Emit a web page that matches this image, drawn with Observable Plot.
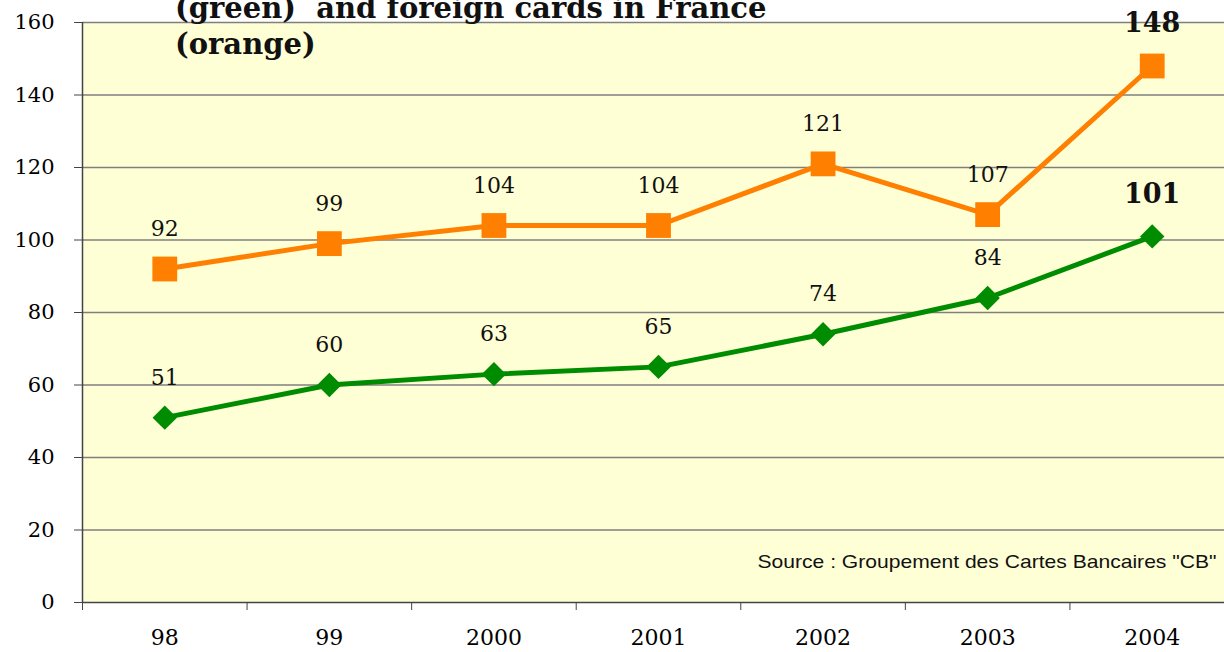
<!DOCTYPE html>
<html>
<head>
<meta charset="utf-8">
<script src="https://cdn.jsdelivr.net/npm/d3@7"></script>
<script src="https://cdn.jsdelivr.net/npm/@observablehq/plot@0.6"></script>
<style>
  html, body { margin: 0; padding: 0; background: #fff; overflow: hidden; width: 1224px; height: 652px; }
  #wrap { position: relative; width: 1224px; height: 652px; overflow: hidden; }
  #chart { position: absolute; left: 0; top: 0; width: 1240px; }
  #chart svg { max-width: none !important; }
  #title { position: absolute; left: 175px; top: -10px; font-family: "DejaVu Serif", serif; font-weight: bold; font-size: 29px; line-height: 36px; color: #111; white-space: pre; z-index: 2; }
</style>
</head>
<body>
<div id="wrap">
  <div id="chart"></div>
  <div id="title">(green)  and foreign cards in France
(orange)</div>
</div>
<script>
const years = ["98", "99", "2000", "2001", "2002", "2003", "2004"];
const foreignCards = [92, 99, 104, 104, 121, 107, 148];   // orange
const frenchCards = [51, 60, 63, 65, 74, 84, 101];        // green
const yTicks = [0, 20, 40, 60, 80, 100, 120, 140, 160];
const sourceText = 'Source : Groupement des Cartes Bancaires "CB"';

const orange = "#FF7F00";
const green = "#008C00";
const serif = "DejaVu Serif, serif";

const toRows = (vals) => vals.map((v, i) => ({i, year: years[i], v, last: i === vals.length - 1}));
const orangeRows = toRows(foreignCards);
const greenRows = toRows(frenchCards);
const boundaries = d3.range(years.length + 1).map(k => k - 0.5);

const chart = Plot.plot({
  width: 1234,
  height: 652,
  marginLeft: 82,
  marginRight: 0,
  marginTop: 22,
  marginBottom: 50,
  style: {fontFamily: serif, background: "transparent", overflow: "visible", maxWidth: "none"},
  x: {domain: [-0.5, years.length - 0.5], axis: null},
  y: {domain: [0, 160], axis: null},
  marks: [
    Plot.frame({fill: "#FFFFD6", stroke: "none"}),
    Plot.ruleY(yTicks.filter(d => d > 0), {stroke: "#7f7f7f", strokeWidth: 1.5}),
    Plot.ruleY([0], {stroke: "#444", strokeWidth: 1.5}),
    Plot.ruleX([-0.5], {stroke: "#444", strokeWidth: 1.5}),
    Plot.axisY({ticks: yTicks, tickSize: 8, tickPadding: 20, fontSize: 21, stroke: "#444", label: null, tickFormat: d => String(d)}),
    Plot.axisX({ticks: boundaries, tickSize: 8, tickFormat: () => "", stroke: "#444", label: null}),
    Plot.axisX({ticks: d3.range(years.length), tickSize: 0, tickPadding: 27, fontSize: 22, label: null, tickFormat: i => years[i]}),
    Plot.text([sourceText], {frameAnchor: "bottom-right", dx: -18, dy: -35, fontFamily: "Liberation Sans, Arial, sans-serif", fontSize: 19, fill: "#111", textAnchor: "end", className: "source"}),
    Plot.line(orangeRows, {x: "i", y: "v", stroke: orange, strokeWidth: 5}),
    Plot.line(greenRows, {x: "i", y: "v", stroke: green, strokeWidth: 5}),
    Plot.dot(orangeRows, {x: "i", y: "v", symbol: "square", r: 14, fill: orange, stroke: null}),
    Plot.dot(greenRows, {x: "i", y: "v", symbol: "diamond2", r: 11, fill: green, stroke: null}),
    Plot.text(orangeRows.filter(d => !d.last), {x: "i", y: "v", text: d => String(d.v), dy: -40, fontSize: 22, fill: "#111"}),
    Plot.text(greenRows.filter(d => !d.last), {x: "i", y: "v", text: d => String(d.v), dy: -40, fontSize: 22, fill: "#111"}),
    Plot.text(orangeRows.filter(d => d.last), {x: "i", y: "v", text: d => String(d.v), dy: -43, fontSize: 27, fontWeight: "bold", fill: "#111"}),
    Plot.text(greenRows.filter(d => d.last), {x: "i", y: "v", text: d => String(d.v), dy: -42, fontSize: 27, fontWeight: "bold", fill: "#111"})
  ]
});
const src = chart.querySelector(".source text");
if (src) { src.setAttribute("textLength", 459); src.setAttribute("lengthAdjust", "spacingAndGlyphs"); }
document.getElementById("chart").appendChild(chart);
</script>
</body>
</html>
